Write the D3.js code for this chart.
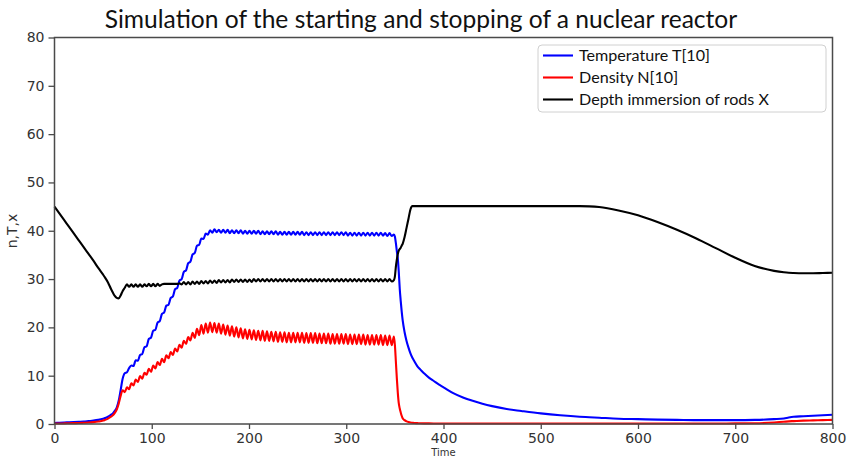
<!DOCTYPE html>
<html><head><meta charset="utf-8">
<script src="https://cdn.jsdelivr.net/npm/d3@7"></script>
<style>body{margin:0;background:#fff;} svg{display:block;}</style>
</head><body>
<svg id="chart" width="847" height="459"></svg>
<script>
// ---- data ----
const time = [
  0,5,10,15,20,25,30,35,40,45,50,52,55,58,60,62,64,66,68,
  70,72.25,74.5,76.75, 79,81.25,83.5,85.75, 88,90.25,92.5,94.75, 97,99.25,101.5,103.75,
  106,108.25,110.5,112.75, 115,117.25,119.5,121.75, 124,126.25,128.5,130.75, 133,135.25,137.5,139.75,
  142,144.25,146.5,148.75, 151,153.25,155.5,157.75, 160,162.25,164.5,166.75, 169,171.25,173.5,175.75,
  178,180.25,182.5,184.75, 187,189.25,191.5,193.75, 196,198.25,200.5,202.75, 205,207.25,209.5,211.75,
  214,216.25,218.5,220.75, 223,225.25,227.5,229.75, 232,234.25,236.5,238.75, 241,243.25,245.5,247.75,
  250,252.25,254.5,256.75, 259,261.25,263.5,265.75, 268,270.25,272.5,274.75, 277,279.25,281.5,283.75,
  286,288.25,290.5,292.75, 295,297.25,299.5,301.75, 304,306.25,308.5,310.75, 313,315.25,317.5,319.75,
  322,324.25,326.5,328.75, 331,333.25,335.5,337.75, 340,342.25,344.5,346.75, 349,
  350,351,352,353,354,355,356,357,358, 360,362,364,366,368,370, 373,376,380,385,390,395,400,
  410,420,430,440,450, 465,480,500,520,540, 550,560,580,600,620,640,660,680,700,720,740,
  750,755,760,770,780,790,800
];
const temperature = [
  0.2,0.25,0.3,0.35,0.4,0.45,0.5,0.6,0.7,0.85,1.1,1.25,1.5,1.9,2.2,2.7,3.4,4.8,7.0,
  9.3,10.5,10.7,11.6, 12.1,12.0,13.2,13.1, 14.3,14.5,15.9,16.1, 17.6,17.9,19.3,19.5,
  21.0,21.3,22.8,23.1, 24.5,24.7,26.1,26.4, 27.9,28.2,29.7,30.0, 31.5,31.8,33.3,33.6,
  35.1,35.4,36.9,37.1, 38.4,38.3,39.4,39.2, 40.1,39.6,40.3,39.7, 40.2,39.6,40.2,39.6,
  40.2,39.5,40.1,39.5, 40.1,39.5,40.1,39.4, 40.0,39.4,40.0,39.4, 40.0,39.4,40.0,39.3,
  39.9,39.3,39.9,39.3, 39.9,39.3,39.9,39.2, 39.8,39.2,39.8,39.2, 39.8,39.2,39.8,39.2,
  39.8,39.2,39.8,39.1, 39.7,39.1,39.7,39.1, 39.7,39.1,39.7,39.1, 39.7,39.1,39.7,39.1,
  39.7,39.1,39.7,39.1, 39.7,39.1,39.7,39.0, 39.6,39.0,39.6,39.0, 39.6,39.0,39.6,39.0,
  39.6,39.0,39.6,39.0, 39.6,39.0,39.6,39.0, 39.5,38.9,39.5,38.9, 39.2,
  38.8,37.5,35.8,34.3,31.5,28.0,25.5,23.3,21.5, 19.0,17.2,15.8,14.6,13.7,13.0, 12.0,11.3,10.5,9.6,8.9,8.2,7.6,
  6.4,5.5,4.8,4.2,3.7, 3.1,2.7,2.2,1.8,1.5, 1.4,1.3,1.1,1.0,0.9,0.85,0.8,0.8,0.8,0.85,1.0,
  1.15,1.35,1.5,1.6,1.7,1.8,1.9
];
const density = [
  0.1,0.1,0.12,0.15,0.18,0.2,0.25,0.3,0.38,0.5,0.7,0.85,1.1,1.5,1.8,2.3,3.0,4.2,5.8,
  7.0,6.6,7.6,7.2, 8.4,8.0,9.2,8.7, 9.9,9.4,10.6,10.2, 11.4,10.8,12.1,11.5,
  12.8,12.2,13.5,12.8, 14.2,13.6,14.9,14.3, 15.6,15.0,16.4,15.8, 17.2,16.6,18.0,17.3,
  18.9,17.8,19.7,18.4, 20.5,18.7,20.8,18.9, 21.0,19.0,20.9,18.9, 20.8,18.7,20.6,18.5,
  20.4,18.3,20.2,18.1, 20.0,17.9,19.8,17.7, 19.6,17.6,19.5,17.5, 19.4,17.4,19.3,17.3,
  19.3,17.2,19.2,17.2, 19.1,17.1,19.1,17.0, 19.0,17.0,19.0,16.9, 18.9,16.9,18.9,16.9,
  18.9,16.9,18.9,16.8, 18.8,16.8,18.8,16.8, 18.8,16.7,18.7,16.7, 18.7,16.7,18.7,16.6,
  18.6,16.6,18.6,16.6, 18.6,16.6,18.6,16.5, 18.5,16.5,18.5,16.5, 18.5,16.5,18.5,16.4,
  18.4,16.4,18.4,16.4, 18.4,16.4,18.4,16.3, 18.3,16.3,18.3,16.3, 18.1,
  16.4,13.0,9.5,6.5,4.3,3.2,2.4,1.7,1.2, 0.8,0.55,0.4,0.3,0.25,0.2, 0.18,0.15,0.13,0.12,0.11,0.1,0.1,
  0.1,0.1,0.1,0.1,0.1, 0.1,0.1,0.1,0.1,0.1, 0.1,0.1,0.1,0.1,0.1,0.1,0.1,0.1,0.12,0.15,0.3,
  0.45,0.55,0.6,0.7,0.75,0.8,0.85
];
const rods = [
  45,43.6,42.2,40.8,39.4,38.0,36.6,35.2,33.8,32.3,30.9,30.3,29.3,28.0,27.2,26.5,26.1,26.0,26.6,
  27.5,28.2,28.9,28.4, 28.9,28.4,28.9,28.4, 28.9,28.4,28.9,28.5, 29.0,28.5,29.0,28.5,
  29.0,28.6,28.9,29.0, 29.0,29.0,29.0,29.0, 29.0,29.0,29.1,28.9, 29.4,28.9,29.4,28.9,
  29.5,29.0,29.5,29.0, 29.6,29.1,29.6,29.1, 29.7,29.2,29.7,29.2, 29.8,29.3,29.8,29.3,
  29.8,29.3,29.9,29.4, 29.9,29.4,29.9,29.4, 29.9,29.4,29.9,29.4, 30.0,29.5,30.0,29.5,
  30.0,29.5,30.0,29.5, 30.0,29.5,30.0,29.5, 30.0,29.5,30.0,29.5, 30.0,29.5,30.0,29.5,
  30.0,29.5,30.0,29.5, 30.0,29.5,30.0,29.5, 30.0,29.5,30.0,29.5, 30.0,29.5,30.0,29.5,
  30.0,29.5,30.0,29.5, 30.0,29.5,30.0,29.5, 30.0,29.5,30.0,29.5, 30.0,29.5,30.0,29.5,
  30.0,29.5,30.0,29.5, 30.0,29.5,30.0,29.5, 30.0,29.5,30.0,29.5, 29.8,
  30.5,32.5,34.0,35.2,35.9,36.2,36.5,36.9,37.3, 38.7,40.6,42.5,44.4,45.1,45.1, 45.1,45.1,45.1,45.1,45.1,45.1,45.1,
  45.1,45.1,45.1,45.1,45.1, 45.1,45.1,45.1,45.1,45.1, 45.05,44.9,44.2,43.2,41.8,40.2,38.4,36.4,34.4,32.7,31.7,
  31.4,31.3,31.25,31.2,31.2,31.25,31.3
];
const xTicks = [0,100,200,300,400,500,600,700,800];
const yTicks = [0,10,20,30,40,50,60,70,80];
const seriesNames = ["Temperature T[10]", "Density N[10]", "Depth immersion of rods X"];
const seriesColors = ["#0000ff", "#ff0000", "#000000"];
const titleText = "Simulation of the starting and stopping of a nuclear reactor";
const xLabel = "Time";
const yLabel = "n,T,x";

// ---- drawing ----
const svg = d3.select("#chart");
const L = 54.5, R = 832.5, T = 37.5, B = 424;
const x = d3.scaleLinear().domain([0, 800]).range([L, R]);
const y = d3.scaleLinear().domain([0, 80]).range([B, T]);
const tickFont = "'DejaVu Sans', sans-serif";
const axisColor = "#4a4a4a";
const labelColor = "#333";

// title
const title = svg.append("text").text(titleText)
  .attr("x", 421).attr("y", 28).attr("text-anchor", "middle")
  .attr("font-family", "Lato, 'Open Sans', sans-serif").attr("font-size", 28).attr("fill", "#111");
{
  const w = title.node().getComputedTextLength();
  title.attr("font-size", 28 * 633 / w);
}

// axes
const gx = svg.append("g").attr("transform", `translate(0,${B})`)
  .call(d3.axisBottom(x).tickValues(xTicks).tickSize(5).tickPadding(4));
const gy = svg.append("g").attr("transform", `translate(${L},0)`)
  .call(d3.axisLeft(y).tickValues(yTicks).tickSize(6).tickPadding(4));
[gx, gy].forEach(g => {
  g.select(".domain").remove();
  g.selectAll(".tick line").attr("stroke", axisColor).attr("stroke-width", 1.3);
  g.selectAll(".tick text").attr("fill", labelColor).attr("font-family", tickFont).attr("font-size", 14);
});

// series
const series = [temperature, density, rods];
const line = d3.line().x(d => x(d[0])).y(d => y(d[1])).curve(d3.curveMonotoneX);
series.forEach((vals, i) => {
  const pts = time.map((t, j) => [t, vals[j]]);
  svg.append("path").datum(pts).attr("d", line)
    .attr("fill", "none").attr("stroke", seriesColors[i]).attr("stroke-width", 2.1)
    .attr("stroke-linejoin", "round");
});

// frame
svg.append("rect").attr("x", L).attr("y", T).attr("width", R - L).attr("height", B - T)
  .attr("fill", "none").attr("stroke", axisColor).attr("stroke-width", 1.5);

// axis labels
svg.append("text").text(yLabel)
  .attr("transform", `translate(17,231) rotate(-90)`).attr("text-anchor", "middle")
  .attr("font-family", tickFont).attr("font-size", 14).attr("fill", labelColor);
svg.append("text").text(xLabel)
  .attr("x", x(400)).attr("y", 455.5).attr("text-anchor", "middle")
  .attr("font-family", tickFont).attr("font-size", 10).attr("fill", labelColor);

// legend
const lg = svg.append("g");
lg.append("rect").attr("x", 538).attr("y", 45).attr("width", 288).attr("height", 67)
  .attr("rx", 4).attr("fill", "#fff").attr("fill-opacity", 0.9)
  .attr("stroke", "#d0d0d0").attr("stroke-width", 1);
const texts = [];
seriesNames.forEach((name, i) => {
  const yy = 55.5 + i * 22;
  lg.append("line").attr("x1", 543).attr("x2", 573).attr("y1", yy).attr("y2", yy)
    .attr("stroke", seriesColors[i]).attr("stroke-width", 2.1);
  texts.push(lg.append("text").text(name).attr("x", 579).attr("y", yy + 5.5)
    .attr("font-family", "Lato, 'Open Sans', sans-serif").attr("font-size", 16).attr("fill", "#111"));
});
{
  const w = texts[2].node().getComputedTextLength();
  const fs = 16 * 190 / w;
  texts.forEach(t => t.attr("font-size", fs));
}
</script>
</body></html>
